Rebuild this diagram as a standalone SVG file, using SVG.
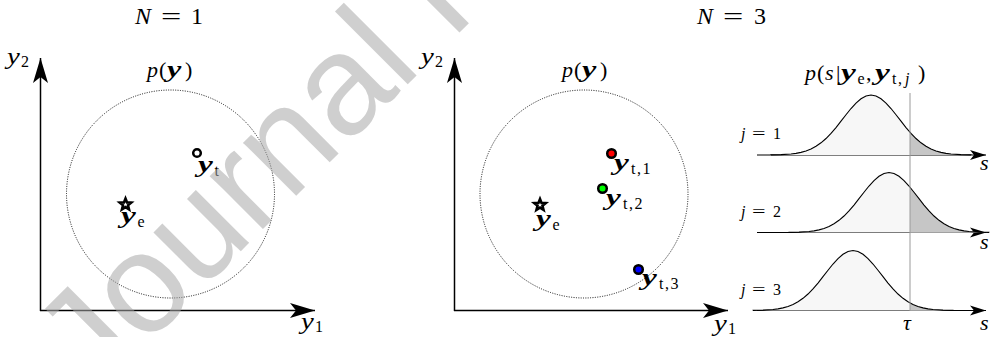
<svg xmlns="http://www.w3.org/2000/svg" xmlns:xlink="http://www.w3.org/1999/xlink" width="992" height="337" viewBox="0 0 992 337">
<style>
.m{font-family:"Liberation Serif","Times New Roman",serif;font-size:22px;font-style:italic;fill:#000}
.t{font-size:24px}
.r{font-style:normal}
.b{font-size:23px;font-weight:bold;font-style:italic}
.ay{font-size:24px}
.sub{font-size:16px;font-style:normal;font-weight:normal}
.sp{letter-spacing:1.5px}
.j{font-size:16px}
.ax{stroke:#000;stroke-width:1.5;fill:none}
.axb{marker-end:url(#ab)}
.axs{stroke-width:1.2;marker-end:url(#as)}
.dc{fill:none;stroke:#111;stroke-width:1;stroke-dasharray:1 1.4}
.star{fill:#fff;stroke:#000;stroke-width:2.6;stroke-linejoin:miter}
.pt{stroke:#000;stroke-width:2.5}
.wm{font-family:"Liberation Sans",Arial,sans-serif;font-size:142px;fill:#a8a8a8;fill-opacity:.55}
</style>
<defs>
<marker id="ab" markerUnits="userSpaceOnUse" markerWidth="30" markerHeight="20" viewBox="-28 -10 30 20" refX="0" refY="0" orient="auto">
<path d="M0,0 L-25,-7.5 L-19,0 L-25,7.5 Z" fill="#000"/>
</marker>
<marker id="as" markerUnits="userSpaceOnUse" markerWidth="20" markerHeight="14" viewBox="-18 -7 20 14" refX="0" refY="0" orient="auto">
<path d="M0,0 L-16,-5 L-12,0 L-16,5 Z" fill="#000"/>
</marker>
<path id="star" d="M0,-6 L1.53,-2.1 L5.71,-1.85 L2.47,0.8 L3.53,4.85 L0,2.6 L-3.53,4.85 L-2.47,0.8 L-5.71,-1.85 L-1.53,-2.1 Z"/>
<path id="g" d="M-100,0 L-100,-0.1 L-90,-0.34 L-80,-1.01 L-75,-1.66 L-70,-2.63 L-65,-4.06 L-60,-6.04 L-55,-8.72 L-50,-12.19 L-45,-16.49 L-40,-21.62 L-35,-27.47 L-30,-33.8 L-25,-40.28 L-20,-46.49 L-15,-51.98 L-10,-56.29 L-5,-59.05 L0,-60 L5,-59.05 L10,-56.29 L15,-51.98 L20,-46.49 L25,-40.28 L30,-33.8 L35,-27.47 L40,-21.62 L45,-16.49 L50,-12.19 L55,-8.72 L60,-6.04 L65,-4.06 L70,-2.63 L75,-1.66 L80,-1.01 L90,-0.34 L100,-0.1 L100,0"/>
<clipPath id="cr"><rect x="910" y="0" width="82" height="337"/></clipPath>
</defs>

<rect width="992" height="337" fill="#fff"/>

<g id="title-n1">
<text class="m t" x="135" y="24">N</text>
<text class="m t r" transform="translate(161,24) scale(1.5,1)">=</text>
<text class="m t r" x="191" y="24">1</text>
</g>
<g id="title-n3">
<text class="m t" x="697" y="24">N</text>
<text class="m t r" transform="translate(723,24) scale(1.5,1)">=</text>
<text class="m t r" x="754" y="24">3</text>
</g>

<g id="connectors">
<path class="ax axb" d="M40.5,311 L40.5,58"/>
<path class="ax axb" d="M40,310.5 L315,310.5"/>
<path class="ax axb" d="M454.5,311 L454.5,58"/>
<path class="ax axb" d="M454,310.5 L728,310.5"/>
<path class="ax axs" d="M757,155 L986,155"/>
<path class="ax axs" d="M757,232.5 L986,232.5"/>
<path class="ax axs" d="M757,310.5 L986,310.5"/>
</g>

<g id="left-axis-labels">
<text class="m ay" transform="translate(7,64) scale(1.2,1)">y</text>
<text class="m sub" x="21" y="67">2</text>
<text class="m ay" transform="translate(301,329) scale(1.2,1)">y</text>
<text class="m sub" x="315" y="332">1</text>
</g>
<g id="left-density">
<circle class="dc" cx="170.5" cy="194" r="104"/>
<text class="m" x="147" y="77">p</text>
<text class="m r" x="159" y="77">(</text>
<text class="m b" transform="translate(167,77) scale(1.4,1)">y</text>
<text class="m r" x="185" y="77">)</text>
</g>
<g id="left-ye">
<use xlink:href="#star" class="star" transform="translate(125.5,204.5)"/>
<text class="m b" transform="translate(121,223) scale(1.45,1)">y</text>
<text class="m sub" x="137.5" y="227">e</text>
</g>
<g id="left-yt">
<circle cx="197" cy="153" r="3.8" fill="#fff" stroke="#000" stroke-width="2.5"/>
<text class="m b" transform="translate(198,172) scale(1.45,1)">y</text>
<text class="m sub" x="214.5" y="176">t</text>
</g>

<g id="mid-axis-labels">
<text class="m ay" transform="translate(421,64) scale(1.2,1)">y</text>
<text class="m sub" x="435" y="67">2</text>
<text class="m ay" transform="translate(714,331) scale(1.2,1)">y</text>
<text class="m sub" x="728" y="334">1</text>
</g>
<g id="mid-density">
<circle class="dc" cx="584" cy="194" r="104"/>
<text class="m" x="562" y="77">p</text>
<text class="m r" x="574" y="77">(</text>
<text class="m b" transform="translate(582,77) scale(1.4,1)">y</text>
<text class="m r" x="600" y="77">)</text>
</g>
<g id="mid-ye">
<use xlink:href="#star" class="star" transform="translate(540,205)"/>
<text class="m b" transform="translate(536,226) scale(1.45,1)">y</text>
<text class="m sub" x="552.5" y="230">e</text>
</g>
<g id="mid-yt1">
<circle class="pt" cx="611.5" cy="153.5" r="4.3" fill="#ff0000"/>
<text class="m b" transform="translate(614,170) scale(1.45,1)">y</text>
<text class="m sub sp" x="631" y="174">t,1</text>
</g>
<g id="mid-yt2">
<circle class="pt" cx="602.5" cy="188.5" r="4.3" fill="#00ff00"/>
<text class="m b" transform="translate(606,205) scale(1.45,1)">y</text>
<text class="m sub sp" x="623" y="209">t,2</text>
</g>
<g id="mid-yt3">
<circle class="pt" cx="638.5" cy="269.5" r="4.3" fill="#0000ff"/>
<text class="m b" transform="translate(642,285) scale(1.45,1)">y</text>
<text class="m sub sp" x="659" y="289">t,3</text>
</g>

<g id="right-title">
<text class="m" x="805" y="80">p</text>
<text class="m r" x="817" y="80">(</text>
<text class="m" x="825" y="80">s</text>
<text class="m r" x="836" y="80">|</text>
<text class="m b" transform="translate(841,80) scale(1.45,1)">y</text>
<text class="m sub" x="857.5" y="84">e</text>
<text class="m r" x="866" y="80">,</text>
<text class="m b" transform="translate(875,80) scale(1.45,1)">y</text>
<text class="m sub sp" x="892" y="84">t,</text>
<text class="m" style="font-size:16px" x="905" y="84">j</text>
<text class="m r" x="918" y="80">)</text>
</g>
<g id="row1">
<use xlink:href="#g" transform="translate(871,155)" fill="#f7f7f7" stroke="none"/>
<g clip-path="url(#cr)"><use xlink:href="#g" transform="translate(871,155)" fill="#c6c6c6" stroke="none"/></g>
<use xlink:href="#g" transform="translate(871,155)" fill="none" stroke="#000" stroke-width="1.1"/>
<text class="m j" x="741" y="139">j</text>
<text class="m j r" transform="translate(752,139) scale(1.5,1)">=</text>
<text class="m j r" x="773" y="139">1</text>
<text class="m" x="980" y="170">s</text>
</g>
<g id="row2">
<use xlink:href="#g" transform="translate(889,232.5)" fill="#f7f7f7" stroke="none"/>
<g clip-path="url(#cr)"><use xlink:href="#g" transform="translate(889,232.5)" fill="#c6c6c6" stroke="none"/></g>
<use xlink:href="#g" transform="translate(889,232.5)" fill="none" stroke="#000" stroke-width="1.1"/>
<text class="m j" x="741" y="216.5">j</text>
<text class="m j r" transform="translate(752,216.5) scale(1.5,1)">=</text>
<text class="m j r" x="773" y="216.5">2</text>
<text class="m" x="980" y="249">s</text>
</g>
<g id="row3">
<use xlink:href="#g" transform="translate(853,310.5)" fill="#f7f7f7" stroke="none"/>
<g clip-path="url(#cr)"><use xlink:href="#g" transform="translate(853,310.5)" fill="#c6c6c6" stroke="none"/></g>
<use xlink:href="#g" transform="translate(853,310.5)" fill="none" stroke="#000" stroke-width="1.1"/>
<text class="m j" x="741" y="294.5">j</text>
<text class="m j r" transform="translate(752,294.5) scale(1.5,1)">=</text>
<text class="m j r" x="773" y="294.5">3</text>
<text class="m" x="980" y="330">s</text>
</g>
<g id="tau">
<line x1="910" y1="93" x2="910" y2="311" stroke="#9a9a9a" stroke-width="1"/>
<text class="m" x="903" y="330">τ</text>
</g>

<text class="wm" transform="translate(94,398) rotate(-45)">Journal Pre-proof</text>
</svg>
